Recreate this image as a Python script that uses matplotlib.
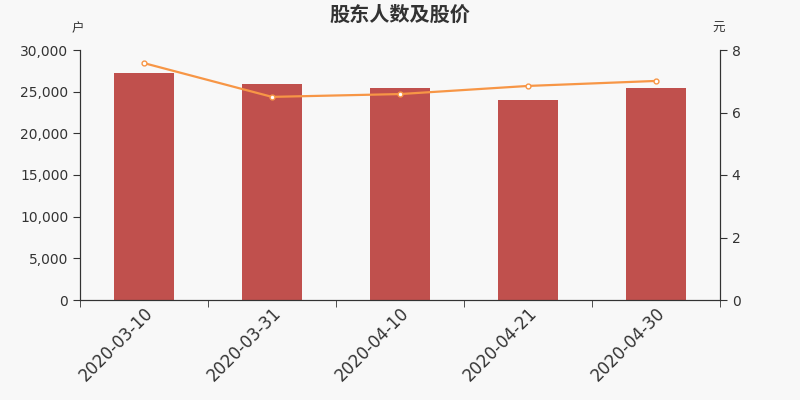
import matplotlib
matplotlib.use("Agg")
import matplotlib.pyplot as plt
from matplotlib.ticker import FuncFormatter
import numpy as np

plt.rcParams['font.family'] = ['DejaVu Sans', 'Noto Sans CJK SC']

# data
dates = ['2020-03-10', '2020-03-31', '2020-04-10', '2020-04-21', '2020-04-30']
holders = [27200, 25900, 25500, 24000, 25400]
prices = [7.58, 6.50, 6.59, 6.85, 7.01]

bg = '#f8f8f8'
txt = '#333333'

fig = plt.figure(figsize=(8, 4), dpi=100, facecolor=bg)
ax = fig.add_axes([0.1, 0.25, 0.8, 0.625], facecolor=bg)
ax2 = ax.twinx()

x = np.arange(len(dates))
ax.bar(x, holders, width=0.47, color='#c0504d', zorder=2)
ax2.plot(x, prices, color='#f79646', lw=1.6, marker='o', ms=3.5,
         mfc='white', mec='#f79646', mew=1, zorder=3)

ax.set_xlim(-0.5, len(dates) - 0.5)
ax.set_ylim(0, 30000)
ax.set_yticks(range(0, 30001, 5000))
ax.yaxis.set_major_formatter(FuncFormatter(lambda v, p: f'{int(v):,}'))
ax2.set_ylim(0, 8)
ax2.set_yticks(range(0, 9, 2))

ax.set_xticks(x)
ax.set_xticklabels(dates, rotation=45, ha='right', rotation_mode='anchor',
                   fontsize=12, color=txt)
ax.set_xticks(np.arange(-0.5, len(dates)), minor=True)
ax.tick_params(axis='x', which='major', length=0, pad=3)
ax.tick_params(axis='x', which='minor', length=5, color=txt)

for a in (ax, ax2):
    a.spines['top'].set_visible(False)
    for s in ('left', 'right', 'bottom'):
        a.spines[s].set_color(txt)
    a.tick_params(axis='y', labelsize=10, colors=txt, length=5)

cjk = ['Noto Sans CJK SC', 'DejaVu Sans']
ax.text(-0.003, 1.06, '户', transform=ax.transAxes, ha='center', va='bottom',
        fontsize=9, color=txt, family=cjk)
ax2.text(0.998, 1.06, '元', transform=ax2.transAxes, ha='center', va='bottom',
         fontsize=9, color=txt, family=cjk)
fig.text(0.5, 0.965, '股东人数及股价', ha='center', va='center',
         fontsize=14.5, fontweight='bold', color=txt, family=cjk)

fig.savefig('out.png', dpi=100, facecolor=bg)
